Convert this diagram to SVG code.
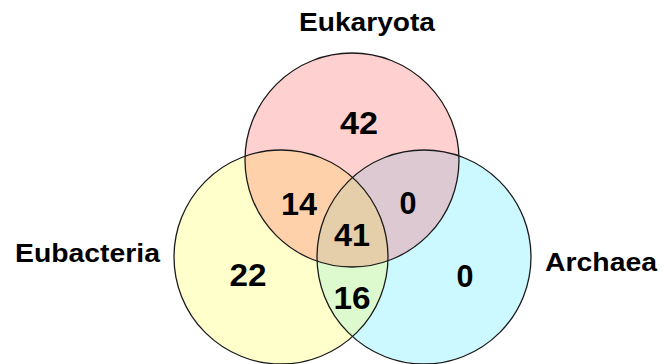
<svg xmlns="http://www.w3.org/2000/svg" width="669" height="364" viewBox="0 0 669 364">
  <style>
    .ring { fill: none; stroke: #1a1a1a; stroke-width: 1.3; }
    .label { font-family: "Liberation Sans", Arial, sans-serif; font-weight: bold; font-size: 25px; fill: #000; }
    .count { font-family: "Liberation Sans", Arial, sans-serif; font-weight: bold; font-size: 31px; fill: #000; text-anchor: middle; }
  </style>
  <defs>
    <circle id="cirT" cx="352" cy="160" r="107"/>
    <circle id="cirL" cx="281" cy="257" r="107"/>
    <circle id="cirR" cx="424" cy="257" r="107"/>
    <clipPath id="clipT"><use href="#cirT"/></clipPath>
    <clipPath id="clipL"><use href="#cirL"/></clipPath>
  </defs>

  <rect width="669" height="364" fill="#fff"/>

  <!-- set fills -->
  <g id="fills">
    <use href="#cirT" fill="#FFD0D0"/>
    <use href="#cirL" fill="#FFFFCC"/>
    <use href="#cirR" fill="#CCF9FF"/>
    <!-- pairwise overlaps -->
    <use href="#cirL" fill="#FFD1AA" clip-path="url(#clipT)"/>
    <use href="#cirR" fill="#DCC9D1" clip-path="url(#clipT)"/>
    <use href="#cirR" fill="#DDFACF" clip-path="url(#clipL)"/>
    <!-- triple overlap -->
    <g clip-path="url(#clipL)">
      <use href="#cirR" fill="#E4CFAA" clip-path="url(#clipT)"/>
    </g>
  </g>

  <g id="eukaryota">
    <use href="#cirT" class="ring"/>
    <text class="label" x="299" y="31" textLength="136" lengthAdjust="spacingAndGlyphs">Eukaryota</text>
    <text class="count" x="359" y="134" textLength="38" lengthAdjust="spacingAndGlyphs">42</text>
  </g>

  <g id="eubacteria">
    <use href="#cirL" class="ring"/>
    <text class="label" x="15" y="262" textLength="145" lengthAdjust="spacingAndGlyphs">Eubacteria</text>
    <text class="count" x="248" y="286" textLength="37" lengthAdjust="spacingAndGlyphs">22</text>
  </g>

  <g id="archaea">
    <use href="#cirR" class="ring"/>
    <text class="label" x="545" y="271" textLength="112" lengthAdjust="spacingAndGlyphs">Archaea</text>
    <text class="count" x="465" y="287" textLength="17" lengthAdjust="spacingAndGlyphs">0</text>
  </g>

  <g id="overlaps">
    <text class="count" x="299" y="215" textLength="36" lengthAdjust="spacingAndGlyphs">14</text>
    <text class="count" x="408" y="214" textLength="17" lengthAdjust="spacingAndGlyphs">0</text>
    <text class="count" x="352" y="246" textLength="36" lengthAdjust="spacingAndGlyphs">41</text>
    <text class="count" x="352" y="309" textLength="37" lengthAdjust="spacingAndGlyphs">16</text>
  </g>
</svg>
